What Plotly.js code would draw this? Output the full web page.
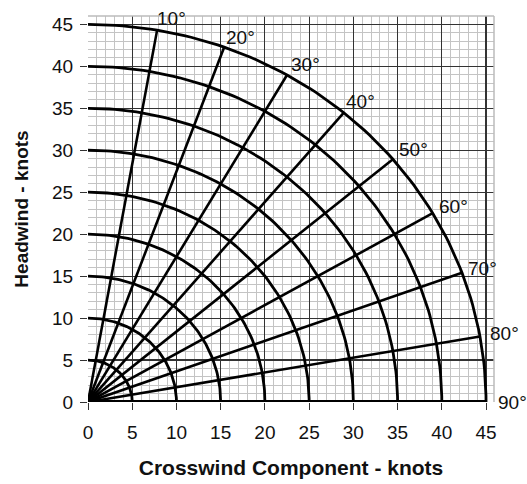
<!DOCTYPE html>
<html><head><meta charset="utf-8">
<script src="https://cdn.plot.ly/plotly-3.0.1.min.js"></script>
<style>html,body{margin:0;padding:0;background:#fff}</style>
</head><body>
<div id="chart" style="width:527px;height:484px"></div>
<script>
const radii = [5, 10, 15, 20, 25, 30, 35, 40, 45];
const angles = [10, 20, 30, 40, 50, 60, 70, 80, 90];
const angleLabels = ['10°', '20°', '30°', '40°', '50°', '60°', '70°', '80°', '90°'];
const maxWind = 45;
const tickVals = [0, 5, 10, 15, 20, 25, 30, 35, 40, 45];

const FONT = 'Liberation Sans, Arial, sans-serif';
const traces = [];
// arcs
radii.forEach(r => {
  const xs = [], ys = [];
  for (let d = 0; d <= 90; d += 1) {
    const a = d * Math.PI / 180;
    xs.push(r * Math.sin(a)); ys.push(r * Math.cos(a));
  }
  traces.push({type:'scatter', mode:'lines', x:xs, y:ys, line:{color:'#000', width:2.8}, hoverinfo:'skip', showlegend:false, cliponaxis:false});
});
// radial lines (10..80) and the 90 deg baseline
angles.forEach(d => {
  const a = d * Math.PI / 180;
  traces.push({type:'scatter', mode:'lines', x:[0, maxWind*Math.sin(a)], y:[0, maxWind*Math.cos(a)],
    line:{color:'#000', width: d === 90 ? 4 : 2.6}, hoverinfo:'skip', showlegend:false, cliponaxis: d === 90 ? false : true});
});
// label offsets (pixels) – style only
const labelShift = [[-2,12],[0,10],[2,10],[0,11],[4,10],[4,7],[4,4],[8,3],[10,0]];
const annotations = angles.map((d, i) => ({
  x: maxWind*Math.sin(d*Math.PI/180), y: maxWind*Math.cos(d*Math.PI/180),
  text: angleLabels[i], showarrow:false, xanchor:'left', yanchor:'middle',
  xshift: labelShift[i][0], yshift: labelShift[i][1],
  font:{family:FONT, size:19, color:'#111'}
}));

const axisCommon = {
  tickvals:tickVals, ticks:'outside', ticklen:7, tickcolor:'#333', tickwidth:1,
  showgrid:true, gridcolor:'#333', gridwidth:1.1, zeroline:false, showline:false,
  minor:{dtick:1, showgrid:true, gridcolor:'#c4c4c4', gridwidth:1, ticks:''},
  tickfont:{family:FONT, size:19, color:'#111'}, fixedrange:true
};
const layout = {
  width:527, height:484,
  margin:{l:88, r:33, t:16, b:82},
  paper_bgcolor:'#fff', plot_bgcolor:'#fff',
  xaxis:Object.assign({}, axisCommon, {range:[0,45.9], ticklabelstandoff:6,
    title:{text:'<b>Crosswind Component - knots</b>', font:{family:FONT, size:21, color:'#111'}, standoff:18}}),
  yaxis:Object.assign({}, axisCommon, {range:[0,46], ticklabelstandoff:3,
    title:{text:'<b>Headwind - knots</b>', font:{family:FONT, size:19, color:'#111'}, standoff:18}}),
  annotations: annotations,
  shapes:[
    {type:'line', xref:'paper', yref:'paper', x0:0, x1:1, y0:1, y1:1, line:{color:'#bbb', width:1.5}},
    {type:'line', xref:'paper', yref:'paper', x0:1, x1:1, y0:0, y1:1, line:{color:'#bbb', width:1.5}}
  ],
  showlegend:false
};
Plotly.newPlot('chart', traces, layout, {displayModeBar:false, staticPlot:true});
</script>
</body></html>
